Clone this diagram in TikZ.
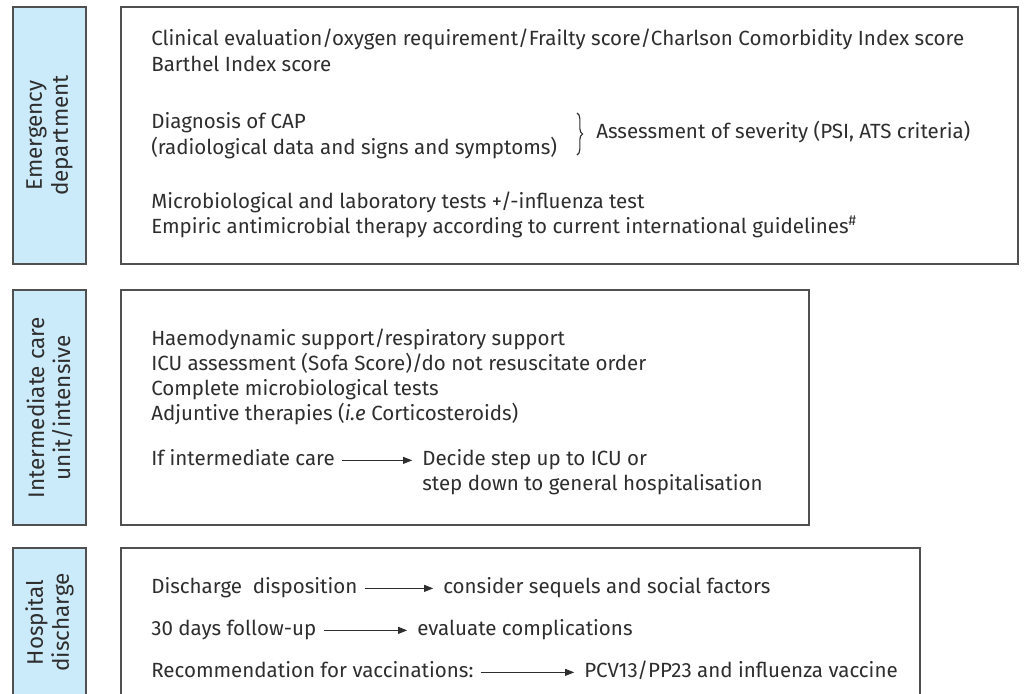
\documentclass[tikz,border=0pt]{standalone}
\usepackage{fontspec}
\setmainfont{Fira Sans}
\usetikzlibrary{arrows.meta,positioning,fit,decorations.pathreplacing}
\definecolor{stageblue}{HTML}{CCEBFA}
\definecolor{edgegray}{HTML}{505050}
\definecolor{ink}{HTML}{2E2E2E}

\begin{document}
\begin{tikzpicture}
	% Styles
	[
	x=0.025cm, y=-0.025cm,
	stage/.style={rectangle, draw=edgegray, line width=0.9pt, fill=stageblue, inner sep=0pt},
	panel/.style={rectangle, draw=edgegray, line width=0.9pt, inner sep=0pt},
	stagetext/.style={rotate=90, align=center, text=ink, font=\fontsize{16}{18.5}\selectfont},
	item/.style={anchor=base west, inner sep=0pt, text=ink, text height=1.5ex, text depth=0.25ex, font=\fontsize{14.6}{17}\selectfont},
	flow/.style={-{Triangle[length=6.5pt,width=5pt]}, line width=0.7pt, draw=ink, shorten <=5pt, shorten >=7pt}
	]

	\fill[white] (0,0) rectangle (1029,693);
	\clip (0,0) rectangle (1029,693);

	% Boxes
	\node[stage, fit={(13,7) (86,264)}]		(edbox)	{};
	\node[panel, fit={(121,7) (1018,264)}]	(edpanel)	{};
	\node[stage, fit={(13,290) (86,525)}]	(icbox)	{};
	\node[panel, fit={(121,290) (809,525)}]	(icpanel)	{};
	\node[stage, fit={(13,548) (86,697)}]	(hdbox)	{};
	\node[panel, fit={(121,548) (920,697)}]	(hdpanel)	{};

	% Stage labels
	\node[stagetext] (edlab) at (edbox.center) {Emergency\\department};
	\node[stagetext] (iclab) at (icbox.center) {Intermediate care\\unit/intensive};
	\node[stagetext] (hdlab) at (hdbox.center) {Hospital\\discharge};

	% Emergency department
	\node[item] (clin)	at (151,45)	{Clinical evaluation/oxygen requirement/Frailty score/Charlson Comorbidity Index score};
	\node[item] (barth)	at (151,71)	{Barthel Index score};
	\node[item] (diag)	at (151,128)	{Diagnosis of CAP};
	\node[item] (radio)	at (151,154)	{(radiological data and signs and symptoms)};
	\node[item] (sev)	at (596,138)	{Assessment of severity (PSI, ATS criteria)};
	\node[item] (micro)	at (151,208)	{Microbiological and laboratory tests +/-influenza test};
	\node[item] (empi)	at (151,233)	{Empiric antimicrobial therapy according to current international guidelines\textsuperscript{\#}};
	\coordinate (bracetop) at (577,113);
	\coordinate (bracebot) at (577,155);
	\draw[decorate, decoration={brace, amplitude=4pt}, line width=0.8pt, draw=ink] (bracetop) -- (bracebot);

	% Intermediate care unit/intensive
	\node[item] (haemo)	at (151,345)	{Haemodynamic support/respiratory support};
	\node[item] (icu)	at (151,370)	{ICU assessment (Sofa Score)/do not resuscitate order};
	\node[item] (compl)	at (151,395)	{Complete microbiological tests};
	\node[item] (adju)	at (151,420)	{Adjuntive therapies (\textit{i.e} Corticosteroids)};
	\node[item] (ifint)	at (151,465)	{If intermediate care};
	\node[item] (decide)	at (422,465)	{Decide step up to ICU or};
	\node[item] (stepdn)	at (422,490)	{step down to general hospitalisation};
	\draw[flow] (ifint) -- (decide);

	% Hospital discharge
	\node[item] (disch)	at (151,593)	{Discharge\ \ disposition};
	\node[item] (sequel)	at (443,593)	{consider sequels and social factors};
	\node[item] (follow)	at (151,635)	{30 days follow-up};
	\node[item] (compli)	at (417,635)	{evaluate complications};
	\node[item] (recom)	at (151,677)	{Recommendation for vaccinations:};
	\node[item] (vacc)	at (584,677)	{PCV13/PP23 and influenza vaccine};
	\draw[flow] (disch) -- (sequel);
	\draw[flow] (follow) -- (compli);
	\draw[flow] (recom) -- (vacc);

\end{tikzpicture}
\end{document}
